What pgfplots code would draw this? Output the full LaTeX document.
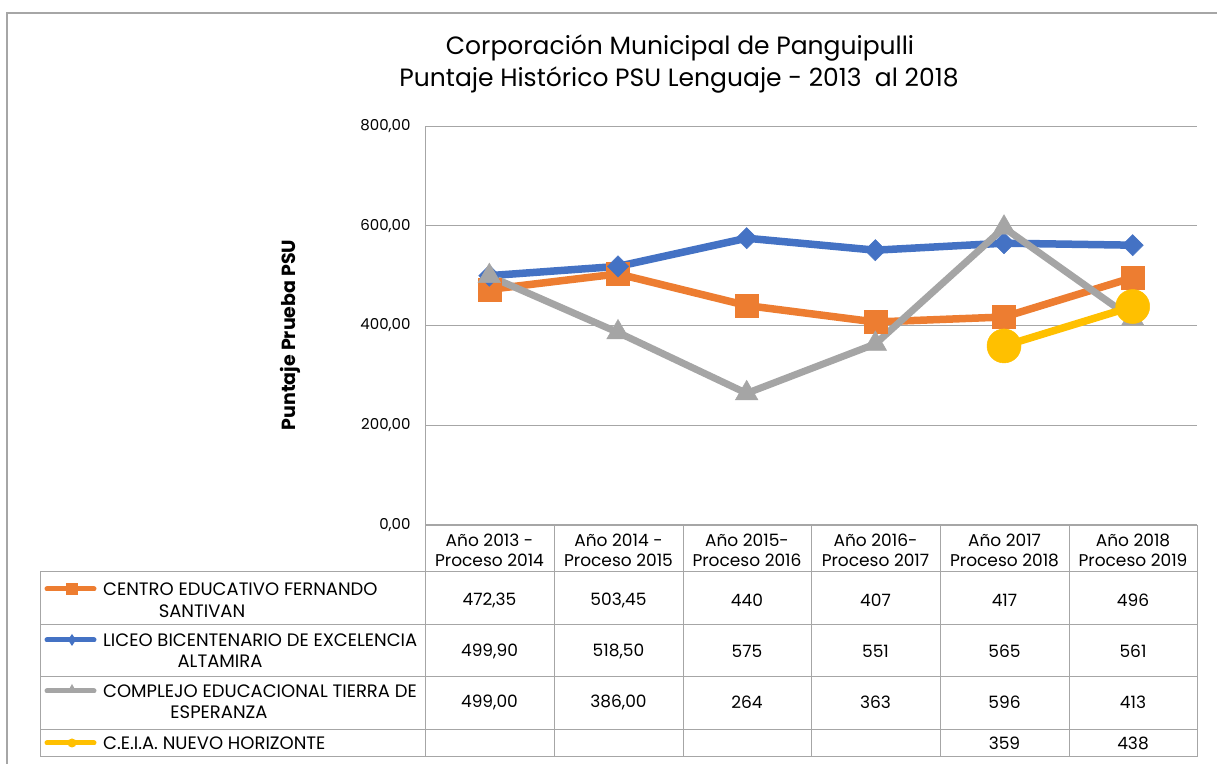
\documentclass[border=0pt]{standalone}
\usepackage{fontspec}
\setmainfont{Poppins}
\usepackage{pgfplots}
\pgfplotsset{compat=1.18}
\definecolor{corange}{HTML}{ED7D31}
\definecolor{cblue}{HTML}{4472C4}
\definecolor{cgray}{HTML}{A5A5A5}
\definecolor{cyellow}{HTML}{FFC000}
\definecolor{rule}{HTML}{A6A6A6}
\newcommand{\tbl}{\fontsize{17bp}{20bp}\selectfont}
\newcommand{\lbl}{\fontsize{18bp}{21bp}\selectfont}

\begin{document}
\begin{tikzpicture}[x=1bp,y=1bp]
\useasboundingbox (0,0) rectangle (1217,764);
\fill[white] (0,0) rectangle (1217,764);
% outer frame (cropped)
\draw[rule, line width=1.2bp] (7,0) -- (7,751) -- (1217,751);

% title
\node[font=\fontsize{25bp}{29bp}\selectfont] at (680,716) {Corporación Municipal de Panguipulli};
\node[font=\fontsize{25bp}{29bp}\selectfont] at (679,684) {Puntaje Histórico PSU Lenguaje - 2013\ \ al 2018};

\begin{axis}[
    at={(425bp,239bp)}, anchor=south west,
    width=772bp, height=399bp, scale only axis,
    xmin=-0.5, xmax=5.5, ymin=0, ymax=800,
    xtick=\empty,
    ytick={0,200,400,600,800},
    ymajorgrids,
    grid style={rule, line width=0.9bp},
    axis line style={draw=none},
    major tick length=0pt,
    yticklabel style={font=\fontsize{15bp}{18bp}\selectfont, xshift=-11bp},
    /pgf/number format/.cd, fixed, fixed zerofill, precision=2, use comma,
    1000 sep={}, assume math mode=true,
    /pgfplots/.cd,
    ylabel={\textbf{Puntaje Prueba PSU}},
    ylabel style={font=\fontsize{19bp}{22bp}\selectfont, at={(-135bp,190bp)}, anchor=center},
    clip=false,
]
\addplot[corange, line width=7.5bp, mark=square*, mark size=11.5bp,
    mark options={solid, line width=0.5bp}]
    coordinates {(0,472.35) (1,503.45) (2,440) (3,407) (4,417) (5,496)};
\addplot[cblue, line width=7.5bp, mark=square*, mark size=7.5bp,
    mark options={solid, rotate=45, line width=0.5bp}]
    coordinates {(0,499.90) (1,518.50) (2,575) (3,551) (4,565) (5,561)};
\addplot[cgray, line width=7bp, mark=triangle*, mark size=13bp,
    mark options={solid, line width=0.5bp}]
    coordinates {(0,499) (1,386) (2,264) (3,363) (4,596) (5,413)};
\addplot[cyellow, line width=7.5bp, mark=*, mark size=17bp,
    mark options={solid, line width=0.5bp}]
    coordinates {(4,359) (5,438)};
\end{axis}

% left axis line
\draw[rule, line width=0.9bp] (425,239) -- (425,638);

% data table grid
\begin{scope}[rule, line width=1bp]
\draw (425,239) -- (1197,239);
\foreach \yy in {192,139,87,34,7} \draw (40,\yy) -- (1197,\yy);
\draw (40,192) -- (40,7);
\foreach \xx in {425,554,683,811,940,1069,1197} \draw (\xx,239) -- (\xx,7);
\end{scope}

% header labels
\begin{scope}[font=\tbl, align=center]
\node at (489.5,214) {Año 2013 -\\Proceso 2014};
\node at (618.5,214) {Año 2014 -\\Proceso 2015};
\node at (747,214) {Año 2015-\\Proceso 2016};
\node at (875.5,214) {Año 2016-\\Proceso 2017};
\node at (1004.5,214) {Año 2017\\Proceso 2018};
\node at (1133,214) {Año 2018\\Proceso 2019};
\end{scope}

% row labels with legend keys
\begin{scope}[font=\lbl]
\draw[corange, line width=5bp, line cap=round] (47,175) -- (94,175);
\fill[corange] (66,169) rectangle (78,181);
\node[anchor=west, inner sep=0] at (103,175) {CENTRO EDUCATIVO FERNANDO};
\node[inner sep=0] at (202,153) {SANTIVAN};

\draw[cblue, line width=5bp, line cap=round] (47,124) -- (94,124);
\fill[cblue] (72,118) -- (76,124) -- (72,130) -- (68,124) -- cycle;
\node[anchor=west, inner sep=0] at (103,124) {LICEO BICENTENARIO DE EXCELENCIA};
\node[inner sep=0] at (220,103) {ALTAMIRA};

\draw[cgray, line width=5bp, line cap=round] (47,73) -- (94,73);
\fill[cgray] (72,80) -- (77,71) -- (67,71) -- cycle;
\node[anchor=west, inner sep=0] at (103,73) {COMPLEJO EDUCACIONAL TIERRA DE};
\node[inner sep=0] at (219,52) {ESPERANZA};

\draw[cyellow, line width=5bp, line cap=round] (47,21) -- (94,21);
\fill[cyellow] (72,21) circle (4.5);
\node[anchor=west, inner sep=0] at (103,21) {C.E.I.A. NUEVO HORIZONTE};
\end{scope}

% values
\begin{scope}[font=\tbl]
\foreach \xx/\va/\vb/\vc in {489.5/{472,35}/{499,90}/{499,00}, 618.5/{503,45}/{518,50}/{386,00},
    747/440/575/264, 875.5/407/551/363, 1004.5/417/565/596, 1133/496/561/413} {
  \node at (\xx,164) {\va};
  \node at (\xx,113) {\vb};
  \node at (\xx,62) {\vc};
}
\node at (1004.5,21) {359};
\node at (1133,21) {438};
\end{scope}
\end{tikzpicture}
\end{document}
